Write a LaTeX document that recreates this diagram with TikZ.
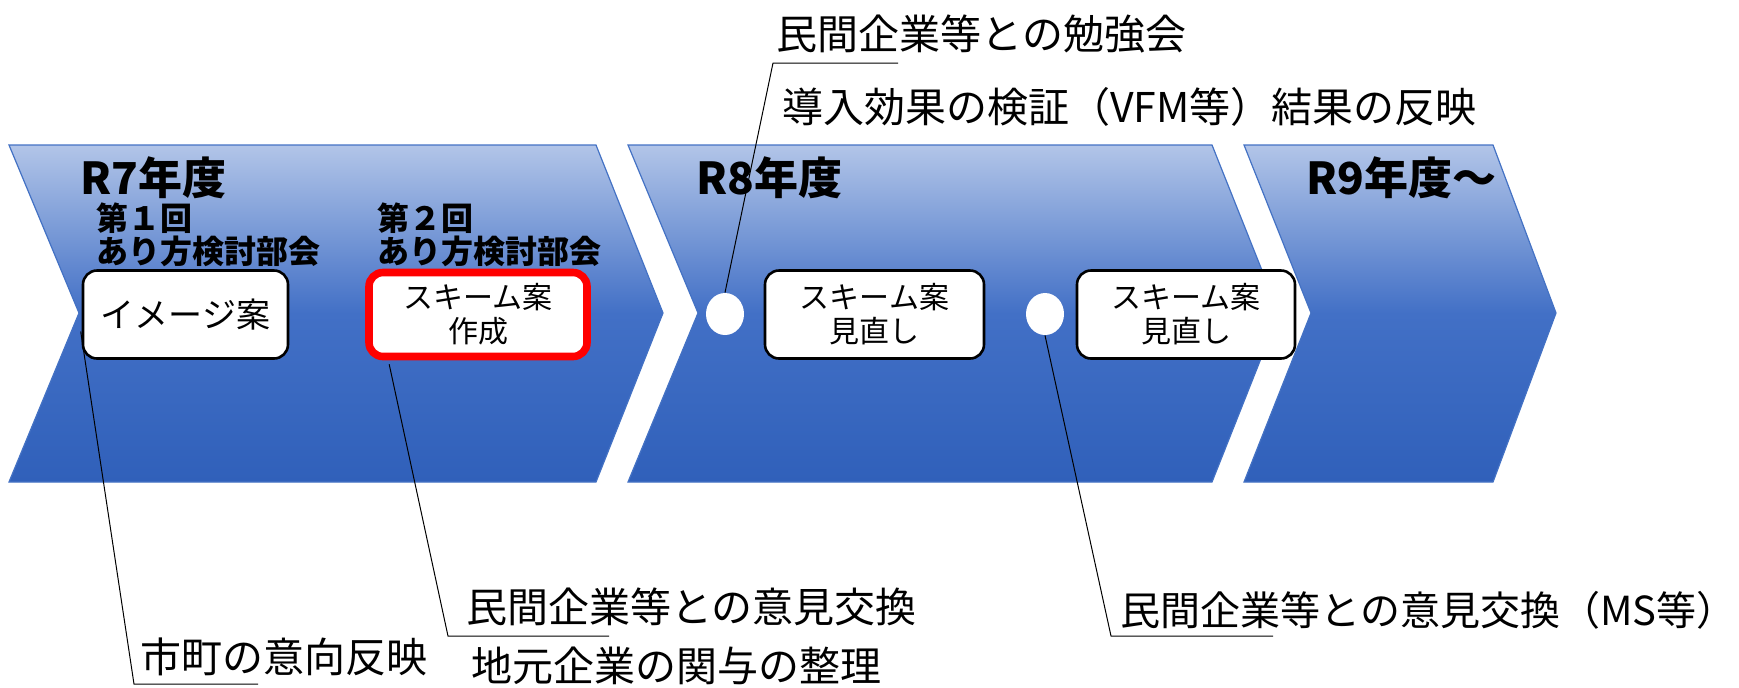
\documentclass[tikz,border=0pt]{standalone}
\usepackage{fontspec}
\setmainfont{Noto Sans CJK JP}
\usetikzlibrary{shapes.geometric,calc}
\definecolor{ctop}{RGB}{178,197,232}
\definecolor{cmid}{RGB}{66,112,198}
\definecolor{cbot}{RGB}{48,96,186}
\definecolor{cedge}{RGB}{68,114,196}
\begin{document}
\begin{tikzpicture}[x=0.5pt,y=-0.5pt,
  chev/.style={draw=cedge,line width=0.6pt,top color=ctop,bottom color=cbot,middle color=cmid},
  yearlbl/.style={font=\fontsize{22}{24}\selectfont\bfseries,anchor=west,inner sep=0pt},
  mtglbl/.style={font=\fontsize{16}{16.5}\selectfont\bfseries,anchor=west,inner sep=0pt,align=left},
  card/.style={draw=black,line width=1.3pt,fill=white,rounded corners=7pt,minimum height=44pt,align=center,inner sep=0pt,font=\fontsize{15}{17}\selectfont},
  redcard/.style={card,draw=red,line width=3.8pt},
  dot/.style={ellipse,fill=white,draw=none,minimum width=19pt,minimum height=21pt,inner sep=0pt},
  lead/.style={draw=black,line width=0.5pt},
  lbl/.style={font=\fontsize{20.5}{24}\selectfont,anchor=west,inner sep=0pt}]
\useasboundingbox (0,0) rectangle (1739,687);
% chevrons
\path[chev] (9,145) -- (596,145) -- (663,313) -- (596,482) -- (9,482) -- (79,313) -- cycle;
\path[chev] (628,145) -- (1212,145) -- (1279,313) -- (1212,482) -- (628,482) -- (698,313) -- cycle;
\path[chev] (1244,145) -- (1493,145) -- (1556,313) -- (1493,482) -- (1244,482) -- (1311,313) -- cycle;
% year labels
\node[yearlbl] (y7) at (80,178) {R7年度};
\node[yearlbl] (y8) at (696,178) {R8年度};
\node[yearlbl] (y9) at (1306,178) {R9年度～};
% meeting labels
\node[mtglbl] (m1) at (96,235) {第１回\\あり方検討部会};
\node[mtglbl] (m2) at (377,235) {第２回\\あり方検討部会};
% cards
\node[card,minimum width=102.5pt,font=\fontsize{17}{19}\selectfont] (box1) at (185.5,314.5) {イメージ案};
\node[redcard,minimum width=109pt,minimum height=42pt] (box2) at (478,314.5) {スキーム案\\作成};
\node[card,minimum width=109.5pt] (box3) at (874.5,314.5) {スキーム案\\見直し};
\node[card,minimum width=109pt] (box4) at (1186,314.5) {スキーム案\\見直し};
% dots
\node[dot] (c1) at (725,314) {};
\node[dot] (c2) at (1045,314) {};
% labels
\node[lbl] (t1) at (140,657) {市町の意向反映};
\node[lbl] (t2) at (466,607) {民間企業等との意見交換};
\node[lbl] (t3) at (471,666) {地元企業の関与の整理};
\node[lbl] (t4) at (776,34) {民間企業等との勉強会};
\node[lbl] (t5) at (782,107) {導入効果の検証（VFM等）結果の反映};
\node[lbl,font=\fontsize{20}{24}\selectfont] (t6) at (1120,610) {民間企業等との意見交換（MS等）};
% leader lines
\coordinate (k1) at (134,684);
\coordinate (e1) at (258,684);
\coordinate (k2) at (448,636);
\coordinate (e2) at (609,636);
\coordinate (k3) at (773,63);
\coordinate (e3) at (898,63);
\coordinate (k4) at (1111,636);
\coordinate (e4) at (1273,636);
\draw[lead] ($(box1.west)+(-1,17)$) -- (k1) -- (e1);
\draw[lead] ($(box2.south west)+(24,4)$) -- (k2) -- (e2);
\draw[lead] (c1.north) -- (k3) -- (e3);
\draw[lead] (c2.south) -- (k4) -- (e4);
\end{tikzpicture}
\end{document}
